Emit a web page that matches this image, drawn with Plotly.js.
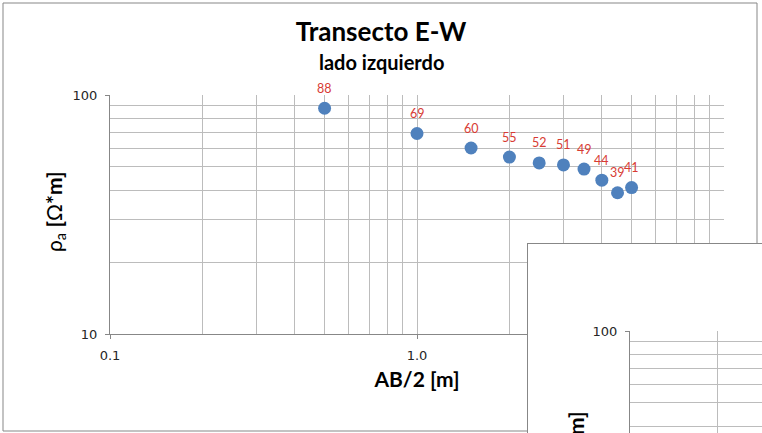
<!DOCTYPE html>
<html>
<head>
<meta charset="utf-8">
<script src="https://cdn.plot.ly/plotly-3.0.1.min.js"></script>
<style>
  html, body { margin: 0; padding: 0; background: #fff; }
  #chart { width: 762px; height: 433px; }
</style>
</head>
<body>
<div id="chart"></div>
<script>
// Apparent resistivity sounding, left side of the E-W transect
const abHalf = [0.5, 1.0, 1.5, 2.0, 2.5, 3.0, 3.5, 4.0, 4.5, 5.0];      // AB/2 [m]
const rhoA   = [88, 69, 60, 55, 52, 51, 49, 44, 39, 41];                // rho_a [ohm*m]
const xTickVals = [0.1, 1, 10];
const xTickText = ['0.1', '1.0', '10.0'];
const yTickVals = [10, 100];
const yTickText = ['10', '100'];
const yTitle = 'ρ<sub>a</sub> <b>[</b>Ω<b>*m]</b>';

const W = 762, H = 433;
const px = v => v / W;
const py = v => 1 - v / H;

const gridCol = '#bcbcbc';
const axisCol = '#878787';
const tickFont = () => ({ family: 'DejaVu Sans', size: 13, color: '#262626' });
const boldFont = () => ({ family: 'Lato', size: 21, color: '#000' });

const trace = {
  type: 'scatter',
  mode: 'markers',
  x: abHalf,
  y: rhoA,
  xaxis: 'x', yaxis: 'y',
  marker: { size: 13, color: '#4f81bd' },
  hoverinfo: 'x+y',
  showlegend: false
};

// value labels above each point
const labels = abHalf.map((x, i) => ({
  x: Math.log10(x), y: Math.log10(rhoA[i]), xref: 'x', yref: 'y',
  text: String(rhoA[i]), showarrow: false, yshift: 20,
  font: { family: 'Lato', size: 12.5, color: '#d83b34' }
}));

const logAxis = (extra) => Object.assign({
  type: 'log',
  showgrid: true, gridcolor: gridCol, gridwidth: 1,
  zeroline: false,
  showline: true, linecolor: axisCol, linewidth: 1,
  ticks: 'outside', ticklen: 4, tickcolor: axisCol,
  tickfont: tickFont(),
  minor: { dtick: 'D1', showgrid: true, gridcolor: gridCol, gridwidth: 1, ticks: '' },
  fixedrange: true
}, extra);

const layout = {
  width: W, height: H,
  margin: { l: 0, r: 0, t: 0, b: 0 },
  paper_bgcolor: '#fff',
  plot_bgcolor: '#fff',
  showlegend: false,
  title: {
    text: '<b>Transecto E-W</b>',
    font: { family: 'Lato', size: 26, color: '#000' },
    x: 0.5, xanchor: 'center', xref: 'paper',
    y: py(32), yanchor: 'middle', yref: 'container'
  },
  // main chart
  xaxis: logAxis({
    domain: [px(110), px(724)], anchor: 'y',
    range: [-1, 1],
    tickmode: 'array', tickvals: xTickVals, ticktext: xTickText,
    ticklabelstandoff: 5,
    title: { text: '<b>AB/2 [m]</b>', font: boldFont(), standoff: 10 }
  }),
  yaxis: logAxis({
    domain: [py(334), py(95)], anchor: 'x',
    range: [1, 2],
    tickmode: 'array', tickvals: yTickVals, ticktext: yTickText,
    ticklabelstandoff: 5
  }),
  // frame of the neighbouring chart
  xaxis2: {
    domain: [px(528), 1], anchor: 'y2', side: 'top', range: [0, 1],
    showgrid: false, zeroline: false, showticklabels: false, ticks: '',
    showline: true, linecolor: axisCol, linewidth: 1, fixedrange: true
  },
  yaxis2: {
    domain: [0, py(244)], anchor: 'x2', side: 'left', range: [0, 1],
    showgrid: false, zeroline: false, showticklabels: false, ticks: '',
    showline: true, linecolor: axisCol, linewidth: 1, fixedrange: true
  },
  // plot area of the neighbouring chart
  xaxis3: logAxis({
    domain: [px(630), 1], anchor: 'y3',
    range: [-1, -0.548], showline: false,
    tickmode: 'array', tickvals: xTickVals, ticktext: xTickText,
    showticklabels: false, ticks: ''
  }),
  yaxis3: logAxis({
    domain: [0, py(331)], anchor: 'x3',
    range: [1.573, 2.0001],
    tickmode: 'array', tickvals: yTickVals, ticktext: yTickText,
    ticklabelstandoff: 5
  }),
  shapes: [{
    type: 'rect', xref: 'paper', yref: 'paper', layer: 'below',
    x0: px(3), x1: px(757), y0: py(431), y1: py(3),
    line: { color: axisCol, width: 1 }, fillcolor: 'rgba(0,0,0,0)'
  }],
  annotations: [
    {
      xref: 'paper', yref: 'paper', x: 0.5, y: py(62),
      xanchor: 'center', yanchor: 'middle', showarrow: false,
      text: '<b>lado izquierdo</b>',
      font: { family: 'Lato', size: 20, color: '#000' }
    },
    // y-axis titles of both charts
    {
      xref: 'paper', yref: 'paper', x: px(55), y: py(212),
      xanchor: 'center', yanchor: 'middle', showarrow: false, textangle: -90,
      text: yTitle, font: boldFont()
    },
    {
      xref: 'paper', yref: 'paper', x: px(577), y: py(452),
      xanchor: 'center', yanchor: 'middle', showarrow: false, textangle: -90,
      text: yTitle, font: boldFont()
    }
  ].concat(labels)
};

const data = [
  trace,
  // empty traces so the neighbouring chart's subplots are drawn
  { type: 'scatter', x: [], y: [], xaxis: 'x2', yaxis: 'y2', hoverinfo: 'skip', showlegend: false },
  { type: 'scatter', x: [], y: [], xaxis: 'x3', yaxis: 'y3', hoverinfo: 'skip', showlegend: false }
];

Plotly.newPlot('chart', data, layout, { displayModeBar: false, staticPlot: true });
</script>
</body>
</html>
